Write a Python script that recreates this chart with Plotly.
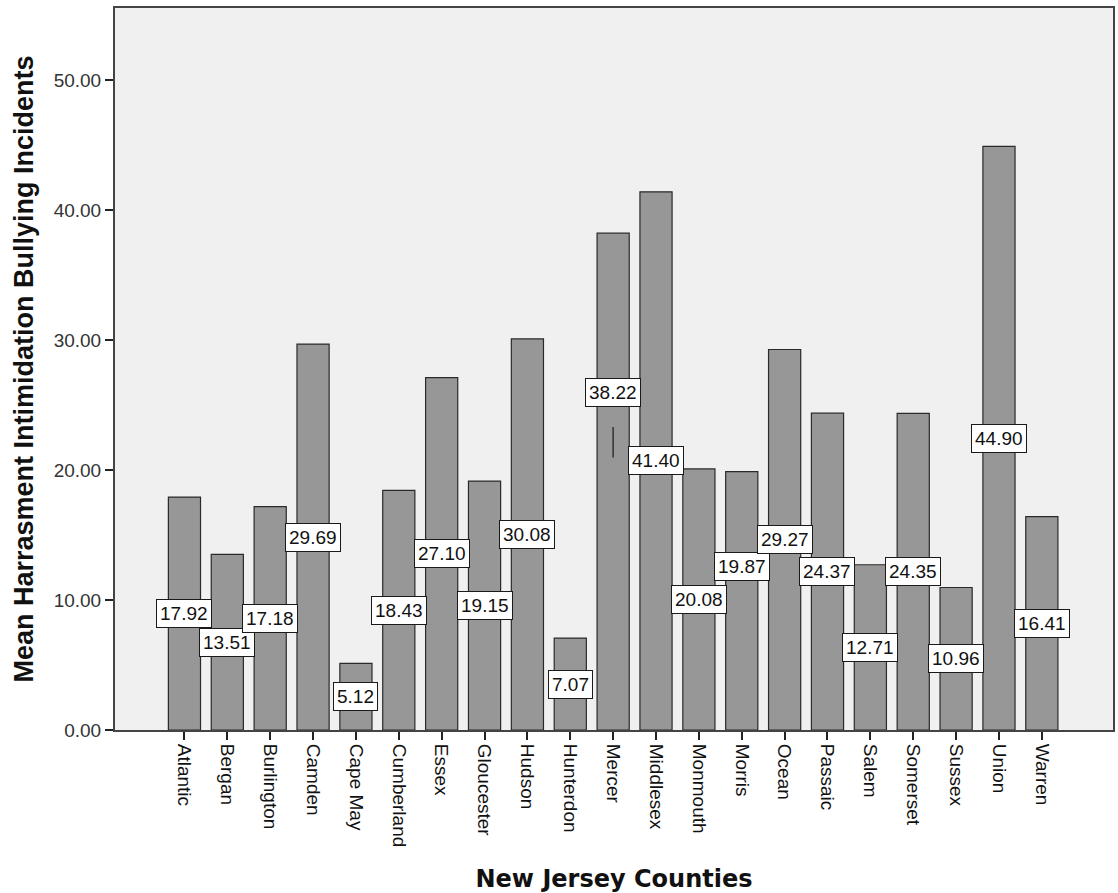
import plotly.graph_objects as go

counties = ["Atlantic", "Bergan", "Burlington", "Camden", "Cape May", "Cumberland",
            "Essex", "Gloucester", "Hudson", "Hunterdon", "Mercer", "Middlesex",
            "Monmouth", "Morris", "Ocean", "Passaic", "Salem", "Somerset",
            "Sussex", "Union", "Warren"]
mean_incidents = [17.92, 13.51, 17.18, 29.69, 5.12, 18.43, 27.10, 19.15, 30.08, 7.07,
                  38.22, 41.40, 20.08, 19.87, 29.27, 24.37, 12.71, 24.35, 10.96,
                  44.90, 16.41]
y_ticks = [0, 10, 20, 30, 40, 50]

# labels sit at half bar height; a few are nudged upward to avoid collisions
label_nudge = {"Mercer": 6.85, "Morris": 2.67}
leader_lines = ["Mercer"]

fig = go.Figure()
fig.add_trace(go.Bar(
    x=counties, y=mean_incidents, width=0.75,
    marker=dict(color="#979797", line=dict(color="#2a2a2a", width=1.2)),
    hoverinfo="x+y",
))

for name, v in zip(counties, mean_incidents):
    ly = v / 2 + label_nudge.get(name, 0)
    fig.add_annotation(
        x=name, y=ly, text=f"{v:.2f}", showarrow=False,
        font=dict(family="Liberation Sans, Arial", size=19, color="#111111"),
        bgcolor="white", bordercolor="#1a1a1a", borderwidth=1, borderpad=3,
    )
    if name in leader_lines:
        # short leader line below the moved label
        fig.add_shape(type="line", x0=name, x1=name, y0=ly - 5.0, y1=ly - 2.65,
                      line=dict(color="#333333", width=1.5))

fig.update_layout(
    width=1118, height=893,
    margin=dict(l=115, r=5, t=8, b=163, autoexpand=False),
    paper_bgcolor="white", plot_bgcolor="#f0f0f0",
    showlegend=False, bargap=0.25,
    font=dict(family="Liberation Sans, Arial", color="#222222"),
)
fig.update_xaxes(
    type="category", range=[-1.62, 21.66], automargin=False,
    tickangle=90, ticks="outside", ticklen=8, tickwidth=1.5, tickcolor="#222222",
    tickfont=dict(family="Liberation Sans, Arial", size=19, color="#111111"),
    showline=True, linecolor="#444444", linewidth=2, mirror=True,
    showgrid=False, zeroline=False,
    title=dict(text="New Jersey Counties", standoff=36,
               font=dict(family="DejaVu Sans", size=24, color="#111111", weight="bold")),
)
fig.update_yaxes(
    range=[0, 55.54], tickvals=y_ticks, ticktext=[f"{t:.2f}" for t in y_ticks],
    automargin=False,
    ticks="outside", ticklen=8, tickwidth=1.5, tickcolor="#222222",
    tickfont=dict(family="Liberation Sans, Arial", size=19, color="#333333"),
    showline=True, linecolor="#444444", linewidth=2, mirror=True,
    showgrid=False, zeroline=False,
    title=dict(text="Mean Harrasment Intimidation Bullying Incidents", standoff=12,
               font=dict(family="Liberation Sans, Arial", size=27, color="#111111", weight="bold")),
)

fig.write_html("out.html")
